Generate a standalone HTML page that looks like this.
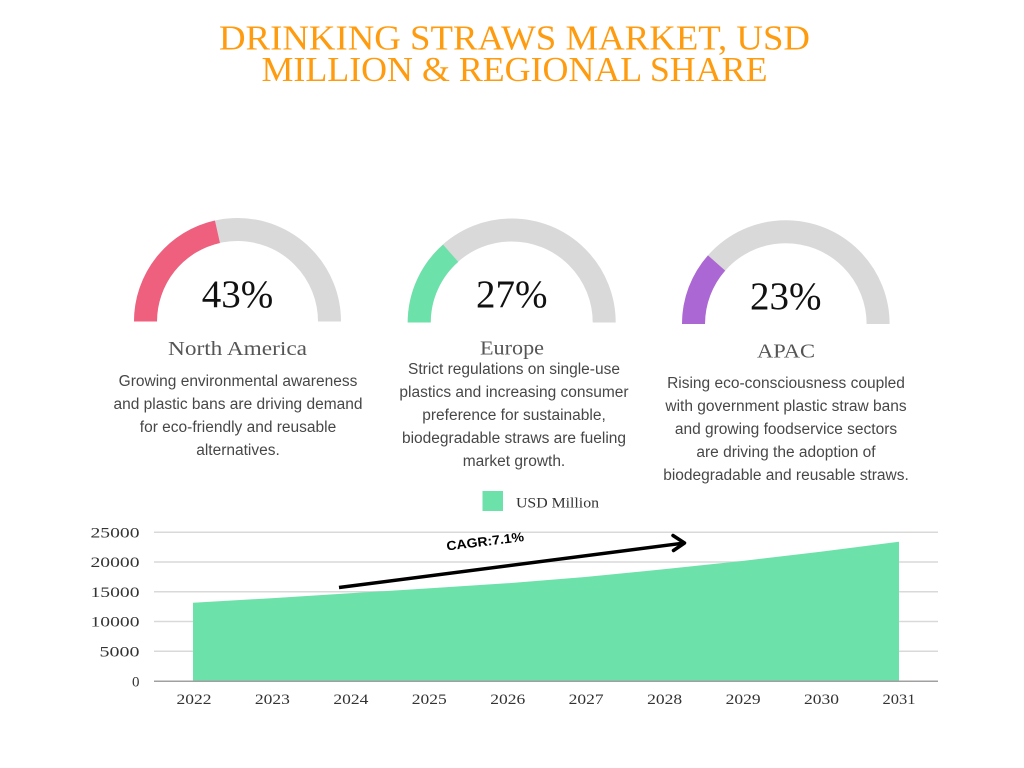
<!DOCTYPE html>
<html>
<head>
<meta charset="utf-8">
<style>
  html,body{margin:0;padding:0;background:#fff;}
  svg{display:block;}
  .desc{font-family:"Liberation Sans",sans-serif;font-size:15.5px;fill:#474747;text-anchor:middle;}
  .reg{font-family:"Liberation Serif",serif;font-size:20px;fill:#555;text-anchor:middle;}
  .pct{font-family:"Liberation Serif",serif;font-size:39px;fill:#111;text-anchor:middle;}
  .tick{font-family:"Liberation Serif",serif;font-size:15px;fill:#333;}
  .title{font-family:"Liberation Serif",serif;font-size:35px;fill:#FF9B0F;text-anchor:middle;}
</style>
</head>
<body>
<svg width="1024" height="768" viewBox="0 0 1024 768" xmlns="http://www.w3.org/2000/svg">
  <rect width="1024" height="768" fill="#fff"/>

  <!-- Title -->
  <text class="title" x="514.5" y="49.5" textLength="591" lengthAdjust="spacingAndGlyphs">DRINKING STRAWS MARKET, USD</text>
  <text class="title" x="514.5" y="81" textLength="506" lengthAdjust="spacingAndGlyphs">MILLION &amp; REGIONAL SHARE</text>

  <!-- Gauge 1 -->
  <path d="M 145.5 321.5 A 92 92 0 0 1 329.5 321.5" fill="none" stroke="#D9D9D9" stroke-width="23"/>
  <path d="M 145.5 321.5 A 92 92 0 0 1 217.43 231.72" fill="none" stroke="#EF5F7E" stroke-width="23"/>
  <text class="pct" x="237.5" y="307">43%</text>
  <text class="reg" x="237.5" y="355" textLength="139" lengthAdjust="spacingAndGlyphs">North America</text>
  <text class="desc" x="238" y="386">Growing environmental awareness</text>
  <text class="desc" x="238" y="409">and plastic bans are driving demand</text>
  <text class="desc" x="238" y="432">for eco-friendly and reusable</text>
  <text class="desc" x="238" y="455">alternatives.</text>

  <!-- Gauge 2 -->
  <path d="M 419.2 322.5 A 92.5 92.5 0 0 1 604.2 322.5" fill="none" stroke="#D9D9D9" stroke-width="23"/>
  <path d="M 419.2 322.5 A 92.5 92.5 0 0 1 450.66 253.26" fill="none" stroke="#6DE1AA" stroke-width="23"/>
  <text class="pct" x="511.7" y="307">27%</text>
  <text class="reg" x="512" y="354.5" textLength="64" lengthAdjust="spacingAndGlyphs">Europe</text>
  <text class="desc" x="514" y="374">Strict regulations on single-use</text>
  <text class="desc" x="514" y="397">plastics and increasing consumer</text>
  <text class="desc" x="514" y="420">preference for sustainable,</text>
  <text class="desc" x="514" y="443">biodegradable straws are fueling</text>
  <text class="desc" x="514" y="466">market growth.</text>

  <!-- Gauge 3 -->
  <path d="M 693.5 324 A 92.3 92.3 0 0 1 878.1 324" fill="none" stroke="#D9D9D9" stroke-width="23"/>
  <path d="M 693.5 324 A 92.3 92.3 0 0 1 716.57 262.96" fill="none" stroke="#AB67D3" stroke-width="23"/>
  <text class="pct" x="785.8" y="309">23%</text>
  <text class="reg" x="786" y="357.5" textLength="58" lengthAdjust="spacingAndGlyphs">APAC</text>
  <text class="desc" x="786" y="388">Rising eco-consciousness coupled</text>
  <text class="desc" x="786" y="411">with government plastic straw bans</text>
  <text class="desc" x="786" y="434">and growing foodservice sectors</text>
  <text class="desc" x="786" y="457">are driving the adoption of</text>
  <text class="desc" x="786" y="480">biodegradable and reusable straws.</text>

  <!-- Legend -->
  <rect x="482.5" y="491" width="20.5" height="20" fill="#6DE1AA"/>
  <text class="tick" x="516" y="507.5" textLength="83" lengthAdjust="spacingAndGlyphs">USD Million</text>

  <!-- Gridlines -->
  <g stroke="#D9D9D9" stroke-width="1.5">
    <line x1="154" y1="532.3" x2="938" y2="532.3"/>
    <line x1="154" y1="562" x2="938" y2="562"/>
    <line x1="154" y1="591.8" x2="938" y2="591.8"/>
    <line x1="154" y1="621.5" x2="938" y2="621.5"/>
    <line x1="154" y1="651.3" x2="938" y2="651.3"/>
  </g>

  <!-- Area -->
  <path d="M 193 681.3 L 193 602.7 L 271.4 598.2 L 349.9 593.3 L 428.3 588.4 L 506.8 583.3 L 585.2 577 L 663.6 569.3 L 742.1 561 L 820.5 551.7 L 899 541.7 L 899 681.3 Z" fill="#6DE1AA"/>
  <line x1="154" y1="681.3" x2="938" y2="681.3" stroke="#A0A0A0" stroke-width="1.5"/>

  <!-- Y tick labels -->
  <g class="tick" text-anchor="end">
    <text x="139.5" y="537.5" textLength="49" lengthAdjust="spacingAndGlyphs">25000</text>
    <text x="139.5" y="567.2" textLength="49" lengthAdjust="spacingAndGlyphs">20000</text>
    <text x="139.5" y="597" textLength="49" lengthAdjust="spacingAndGlyphs">15000</text>
    <text x="139.5" y="626.7" textLength="49" lengthAdjust="spacingAndGlyphs">10000</text>
    <text x="139.5" y="656.5" textLength="40" lengthAdjust="spacingAndGlyphs">5000</text>
    <text x="139.5" y="686.5">0</text>
  </g>

  <!-- X tick labels -->
  <g class="tick" text-anchor="middle">
    <text x="194" y="704" textLength="35" lengthAdjust="spacingAndGlyphs">2022</text>
    <text x="272.4" y="704" textLength="35" lengthAdjust="spacingAndGlyphs">2023</text>
    <text x="350.9" y="704" textLength="35" lengthAdjust="spacingAndGlyphs">2024</text>
    <text x="429.3" y="704" textLength="35" lengthAdjust="spacingAndGlyphs">2025</text>
    <text x="507.8" y="704" textLength="35" lengthAdjust="spacingAndGlyphs">2026</text>
    <text x="586.2" y="704" textLength="35" lengthAdjust="spacingAndGlyphs">2027</text>
    <text x="664.6" y="704" textLength="35" lengthAdjust="spacingAndGlyphs">2028</text>
    <text x="743.1" y="704" textLength="35" lengthAdjust="spacingAndGlyphs">2029</text>
    <text x="821.5" y="704" textLength="35" lengthAdjust="spacingAndGlyphs">2030</text>
    <text x="899" y="704" textLength="33" lengthAdjust="spacingAndGlyphs">2031</text>
  </g>

  <!-- CAGR arrow -->
  <line x1="339" y1="587.5" x2="683" y2="543.2" stroke="#000" stroke-width="3.5"/>
  <polyline points="673,535.5 684.5,543 673.5,550.5" fill="none" stroke="#000" stroke-width="3.5" stroke-linecap="round" stroke-linejoin="round"/>
  <text x="447" y="550.5" transform="rotate(-7 447 550.5)" font-family="Liberation Sans, sans-serif" font-weight="bold" font-size="13" fill="#000" textLength="78" lengthAdjust="spacingAndGlyphs">CAGR:7.1%</text>
</svg>
</body>
</html>
